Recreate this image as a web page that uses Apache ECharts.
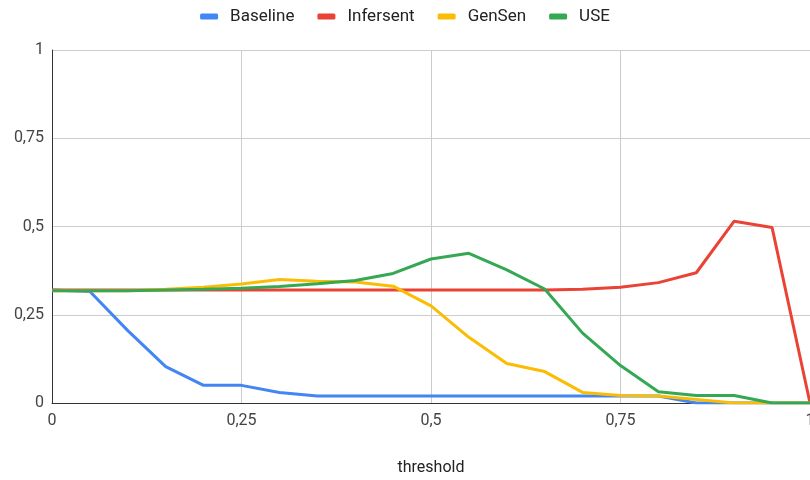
<!DOCTYPE html>
<html>
<head>
<meta charset="utf-8">
<script src="https://cdn.jsdelivr.net/npm/echarts@6/dist/echarts.min.js"></script>
<style>
  html, body { margin: 0; padding: 0; background: #fff; }
  #chart { width: 810px; height: 480px; }
</style>
</head>
<body>
<div id="chart"></div>
<script>
// Similarity thresholds (x axis)
const thresholds = [0, 0.05, 0.1, 0.15, 0.2, 0.25, 0.3, 0.35, 0.4, 0.45, 0.5,
                    0.55, 0.6, 0.65, 0.7, 0.75, 0.8, 0.85, 0.9, 0.95, 1];

const baseline  = [0.32, 0.316, 0.205, 0.103, 0.05, 0.05, 0.03, 0.02, 0.02, 0.02, 0.02,
                   0.02, 0.02, 0.02, 0.02, 0.02, 0.02, 0, 0, 0, 0];
const infersent = [0.32, 0.32, 0.32, 0.32, 0.32, 0.32, 0.32, 0.32, 0.32, 0.32, 0.32,
                   0.32, 0.32, 0.32, 0.322, 0.328, 0.341, 0.369, 0.515, 0.497, 0];
const gensen    = [0.318, 0.318, 0.318, 0.322, 0.328, 0.337, 0.35, 0.345, 0.343, 0.331, 0.275,
                   0.186, 0.112, 0.089, 0.03, 0.021, 0.02, 0.01, 0, 0, 0];
const use       = [0.318, 0.318, 0.318, 0.32, 0.322, 0.325, 0.33, 0.338, 0.347, 0.367, 0.408,
                   0.424, 0.377, 0.323, 0.198, 0.106, 0.032, 0.021, 0.021, 0, 0];

const seriesNames = ['Baseline', 'Infersent', 'GenSen', 'USE'];
const seriesColors = ['#4285F4', '#EA4335', '#FBBC04', '#34A853'];
const seriesValues = [baseline, infersent, gensen, use];

const font = 'Roboto, "Liberation Sans", Arial, sans-serif';
const commaDecimal = v => String(v).replace('.', ',');

const chart = echarts.init(document.getElementById('chart'), null, { renderer: 'canvas' });

chart.setOption({
  animation: false,
  color: seriesColors,
  textStyle: { fontFamily: font },
  legend: {
    top: 3,
    left: 'center',
    itemWidth: 18,
    itemHeight: 6,
    itemGap: 23,
    icon: 'roundRect',
    textStyle: { fontSize: 17, color: '#222', fontFamily: font, padding: [0, 0, 0, 7] },
    data: seriesNames
  },
  grid: { left: 52, right: 0, top: 50, bottom: 77, containLabel: false, outerBoundsMode: 'none' },
  xAxis: {
    type: 'value',
    min: 0, max: 1, interval: 0.25,
    name: 'threshold',
    nameLocation: 'middle',
    nameGap: 57,
    nameTextStyle: { fontSize: 16, color: '#222', fontFamily: font },
    axisLine: { lineStyle: { color: '#333', width: 1 } },
    axisTick: { show: false },
    axisLabel: { fontSize: 16, color: '#444', margin: 10, formatter: commaDecimal },
    splitLine: { show: true, lineStyle: { color: '#ccc', width: 1 } }
  },
  yAxis: {
    type: 'value',
    min: 0, max: 1, interval: 0.25,
    axisLine: { show: true, lineStyle: { color: '#333', width: 1 } },
    axisTick: { show: false },
    axisLabel: { fontSize: 16, color: '#444', margin: 8, formatter: commaDecimal },
    splitLine: { show: true, lineStyle: { color: '#ccc', width: 1 } }
  },
  series: seriesNames.map((name, i) => ({
    name,
    type: 'line',
    showSymbol: false,
    symbol: 'none',
    lineStyle: { width: 3, color: seriesColors[i] },
    itemStyle: { color: seriesColors[i] },
    data: thresholds.map((t, k) => [t, seriesValues[i][k]])
  }))
});
</script>
</body>
</html>
